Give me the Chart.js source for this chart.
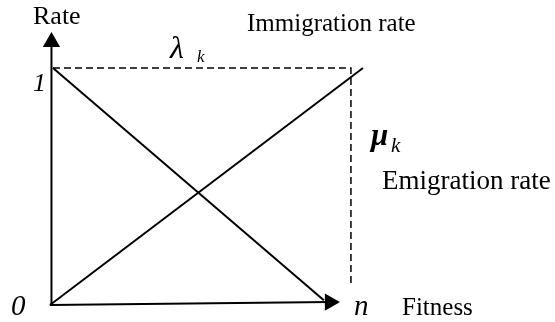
<!DOCTYPE html>
<html>
<head>
<meta charset="utf-8">
<script src="https://cdn.jsdelivr.net/npm/chart.js@4"></script>
<style>
  html, body { margin: 0; padding: 0; background: #fff; }
  canvas { display: block; }
</style>
</head>
<body>
<canvas id="c" width="555" height="322"></canvas>
<script>
// fitness on x (0..n), rate on y (0..1)
const immX = [0.01, 0.91];   // lambda_k, falls with fitness
const immY = [1, 0.02];
const emiX = [0, 1.04];      // mu_k, rises with fitness
const emiY = [0, 1.0];
const guideX = [0.01, 1, 1]; // dashed box corner at (n, 1)
const guideY = [1, 1, 0.08];
const axisXX = [0, 0.93];
const axisXY = [0, 0.012];
const axisYX = [0.005, 0.005];
const axisYY = [0, 1.11];

const pts = (xs, ys) => xs.map((x, i) => ({ x, y: ys[i] }));
const SERIF = '"Liberation Serif", serif';

const labels = {
  id: 'labels',
  afterDraw(chart) {
    const { ctx } = chart;
    ctx.save();
    ctx.fillStyle = '#000';
    ctx.textBaseline = 'alphabetic';
    ctx.textAlign = 'left';
    const t = (s, xp, yp, font) => {
      ctx.font = font;
      ctx.fillText(s, xp, yp);
    };
    t('Rate', 33, 24, `26px ${SERIF}`);
    t('Immigration rate', 247, 31, `25px ${SERIF}`);
    t('λ', 170, 58, `italic 32px ${SERIF}`);
    t('k', 197, 62, `italic 17px ${SERIF}`);
    t('1', 33, 91, `italic 26px ${SERIF}`);
    t('0', 11, 315, `italic 29px ${SERIF}`);
    t('n', 354, 315, `italic 29px ${SERIF}`);
    t('Fitness', 402, 315, `25px ${SERIF}`);
    t('μ', 371, 145, `italic bold 31px ${SERIF}`);
    t('k', 391, 152, `italic 21px ${SERIF}`);
    t('Emigration rate', 382, 189, `27px ${SERIF}`);
    ctx.restore();
  }
};

const line = (data, extra) => Object.assign({
  data,
  showLine: true,
  borderColor: '#000',
  borderWidth: 2,
  pointRadius: 0,
  fill: false,
}, extra);

new Chart(document.getElementById('c'), {
  type: 'scatter',
  data: {
    datasets: [
      line(pts(immX, immY), { label: 'Immigration rate' }),
      line(pts(emiX, emiY), { label: 'Emigration rate' }),
      line(pts(guideX, guideY), { label: 'guide', borderWidth: 1.5, borderDash: [7, 4] }),
      line(pts(axisXX, axisXY), {
        label: 'x axis', pointStyle: 'triangle', pointRadius: [0, 8],
        pointRotation: 90, backgroundColor: '#000',
      }),
      line(pts(axisYX, axisYY), {
        label: 'y axis', pointStyle: 'triangle', pointRadius: [0, 8],
        pointRotation: 0, backgroundColor: '#000',
      }),
    ],
  },
  options: {
    responsive: false,
    animation: false,
    layout: { padding: 0, autoPadding: false },
    plugins: { legend: { display: false }, tooltip: { enabled: false } },
    scales: {
      x: { type: 'linear', display: false, min: -0.166, max: 1.678 },
      y: { type: 'linear', display: false, min: -0.072, max: 1.287 },
    },
  },
  plugins: [labels],
});
</script>
</body>
</html>
